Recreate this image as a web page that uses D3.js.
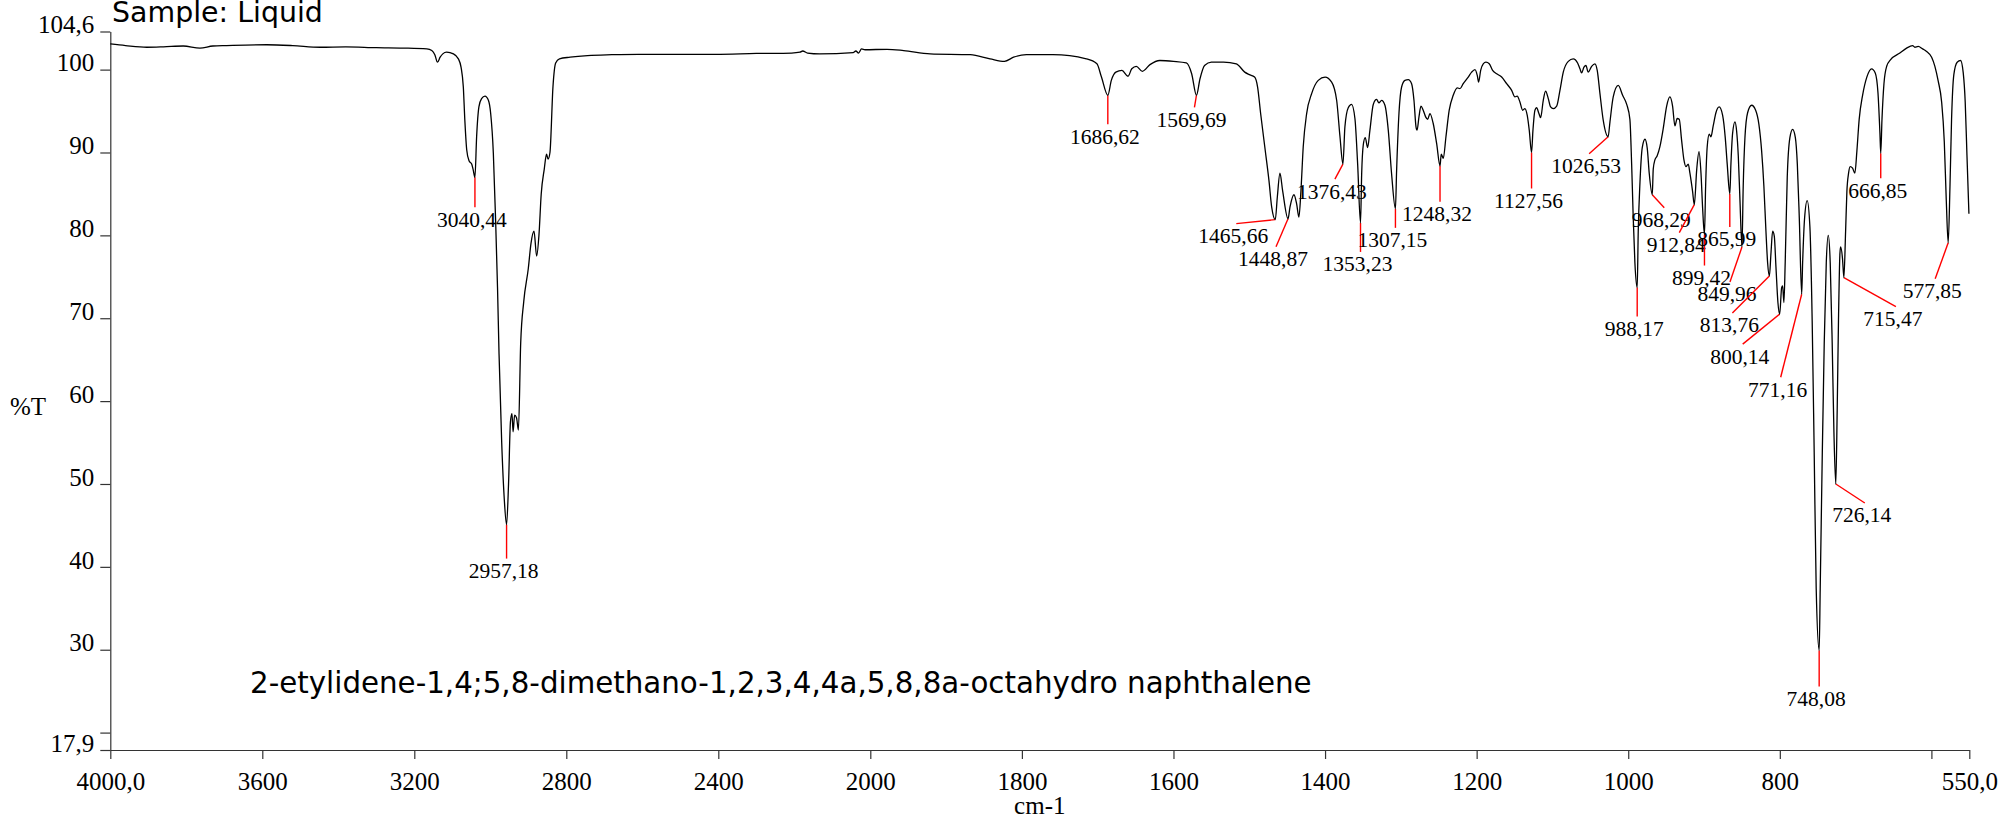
<!DOCTYPE html>
<html>
<head>
<meta charset="utf-8">
<script src="https://cdn.jsdelivr.net/npm/d3@7/dist/d3.min.js"></script>
<style>
body { margin: 0; background: #fff; }
svg { display: block; }
.serif { font-family: "Liberation Serif", "Times New Roman", serif; }
.comic { font-family: "DejaVu Sans", sans-serif; }
</style>
</head>
<body>
<svg id="svg-container" width="2003" height="822"></svg>
<script>
// IR spectrum: wavenumber (cm-1) and %T
var wavenumbers = [
	4000, 3960, 3904, 3860, 3808, 3764, 3730, 3694, 3588, 3520, 3448, 3380, 3300, 3230, 3167, 3154, 3146, 3139, 3132, 3125,
	3115, 3097, 3084, 3077, 3071, 3067, 3062, 3056, 3049, 3045, 3040.44, 3036, 3030, 3023, 3014, 3005, 2999, 2992, 2986, 2981,
	2977, 2970, 2963, 2957.18, 2952, 2947, 2943, 2940, 2936, 2931, 2926, 2920, 2912, 2900, 2893, 2885, 2878, 2872, 2866, 2858,
	2852, 2848, 2843, 2835, 2828, 2818, 2790, 2744, 2680, 2610, 2500, 2408, 2300, 2207, 2185, 2178, 2165, 2133, 2045, 2038,
	2031, 2023, 2014, 1978, 1956, 1921, 1868, 1842, 1823, 1811, 1794, 1759, 1715, 1701, 1695, 1686.62, 1682, 1676, 1668, 1660,
	1655, 1649, 1641, 1631, 1618, 1600, 1583, 1576, 1569.69, 1565, 1559, 1550, 1534, 1517, 1506, 1500, 1493, 1489, 1485, 1479,
	1474, 1470.4, 1465.66, 1463, 1459.5, 1456, 1448.87, 1446.3, 1441, 1437.5, 1434.5, 1431.8, 1428.8, 1424.3, 1417.7, 1409, 1400, 1391.3, 1384.7, 1380.3,
	1376.43, 1373.8, 1369.4, 1365, 1360.6, 1357, 1353.23, 1351.7, 1349.6, 1347, 1343.8, 1340.8, 1336.4, 1332, 1329, 1325.4, 1321, 1316.6, 1312.2, 1307.15,
	1305.6, 1302.5, 1299, 1294.6, 1290.2, 1285.8, 1282.7, 1280, 1278.6, 1276.1, 1273.5, 1270.5, 1267.3, 1264.6, 1261.6, 1257.3, 1252.8, 1248.32, 1246.7, 1244,
	1240.5, 1236.2, 1230.9, 1225.6, 1222, 1217.7, 1211.1, 1206.6, 1202.2, 1199.2, 1197.4, 1194.7, 1191.3, 1187.7, 1183.4, 1178.9, 1173.6, 1167, 1160.4, 1153.8,
	1149.5, 1146.5, 1142.9, 1139.3, 1136.3, 1133.3, 1130.6, 1127.56, 1125.7, 1123.1, 1120.9, 1117.8, 1115.6, 1112.1, 1109, 1105.5, 1102.4, 1098.9, 1094.4, 1090.1,
	1085.7, 1079.1, 1072.6, 1066.8, 1063.7, 1061.5, 1058.4, 1055.8, 1052.8, 1048.3, 1043.9, 1040.9, 1037.3, 1033, 1026.53, 1024.1, 1019.8, 1013.2, 1007.4, 1002,
	997.8, 995.5, 993.4, 991.2, 988.17, 986.8, 984.5, 981.5, 977.9, 974.9, 972.3, 968.29, 967, 964.8, 961.8, 958.2, 953.8, 949.3, 945, 941.5,
	938.4, 935.4, 932.7, 929.6, 926.5, 923.9, 920.8, 918.6, 915.1, 912.84, 909.6, 906.6, 904, 901.8, 899.42, 897.9, 895.8, 893.1, 890.9, 887.9,
	884.3, 880, 875.5, 872, 869.4, 865.99, 864.5, 862.3, 859.2, 857, 854.8, 852.6, 849.96, 848.3, 846, 842.5, 837.2, 831.9, 827.6, 824,
	821, 818.3, 816.1, 813.76, 811.7, 809.5, 807.3, 805.1, 802.5, 800.14, 797.6, 796.3, 794.6, 792.9, 790.2, 786.7, 783.1, 779.5, 776.9, 774.3,
	771.16, 769.9, 767.3, 763.9, 760.3, 757.3, 754.6, 752, 748.08, 746.7, 744, 741.4, 738.7, 736.1, 733.5, 730.9, 728.6, 726.14, 724.3, 722.6,
	720.7, 719.8, 717.3, 715.47, 713.2, 711.5, 709.3, 707.2, 704, 701, 698.3, 695.3, 690.8, 685.2, 678.9, 674.1, 670.5, 667.9, 666.85, 665.2,
	662.6, 659, 653.8, 641.6, 632.7, 624.8, 621.8, 617.4, 611.6, 606.4, 599.7, 595.4, 591, 586.5, 583, 580.4, 577.85, 575.5, 573.4, 570.4,
	566, 561.5, 558, 555.4, 553.1, 550.5
];
var transmittance = [
	103.1, 102.9, 102.7, 102.75, 102.85, 102.6, 102.85, 102.9, 103.0, 102.9, 102.7, 102.75, 102.65, 102.6, 102.5, 102.3, 101.8, 100.9, 101.5, 101.9,
	102.1, 101.9, 101.3, 100.3, 97.9, 93.9, 90.3, 89.0, 88.6, 87.9, 87.0, 91.9, 95.5, 96.5, 96.8, 96.3, 94.7, 89.9, 81.8, 73.7,
	65.7, 55, 48, 45.1, 50, 57.5, 58.5, 56.3, 58.3, 58.0, 56.5, 67, 72, 76, 79, 80.5, 77.5, 80, 85, 88,
	89.8, 89.2, 90, 98, 100.8, 101.3, 101.5, 101.7, 101.8, 101.85, 101.85, 101.85, 101.95, 102.0, 102.1, 102.25, 102.0, 101.9, 102.05, 102.25,
	102.0, 102.5, 102.4, 102.45, 102.3, 101.9, 101.8, 101.3, 101.0, 101.5, 101.8, 101.8, 101.3, 100.7, 99.1, 96.9, 98.7, 99.7, 99.9, 99.2,
	100.1, 100.4, 99.8, 100.6, 101.1, 101.0, 100.8, 99.5, 96.9, 98.9, 100.5, 100.9, 100.9, 100.7, 99.7, 99.4, 99.1, 97.9, 94.7, 90.3,
	86.6, 83.4, 81.9, 84.6, 87.5, 85.4, 82.0, 83.4, 84.9, 83.8, 82.2, 85.4, 90.7, 94.7, 97.1, 98.7, 99.1, 98.5, 96.3, 91.9,
	88.6, 93.1, 95.4, 95.8, 94.1, 88.6, 81.5, 87.4, 90.9, 91.8, 90.6, 92.7, 95.8, 96.4, 96.0, 96.3, 95.7, 92.7, 87.4, 83.2,
	87.8, 94.7, 97.9, 98.7, 98.8, 98.3, 96.3, 93.1, 92.7, 94.3, 95.6, 95.1, 94.3, 94.0, 94.7, 93.5, 91.1, 88.4, 89.8, 89.3,
	91.9, 95.1, 96.9, 97.8, 97.7, 98.3, 99.1, 99.7, 100.0, 99.3, 98.5, 99.9, 100.7, 100.9, 100.7, 99.9, 99.5, 99.1, 98.3, 97.5,
	96.7, 96.8, 96.1, 95.1, 95.3, 94.5, 92.7, 90.0, 92.7, 95.1, 95.4, 94.7, 94.2, 96.3, 97.4, 96.5, 95.5, 95.3, 95.6, 97.5,
	99.7, 101.0, 101.3, 100.8, 100.1, 99.6, 100.3, 100.5, 99.7, 100.4, 100.7, 99.9, 97.1, 93.9, 91.9, 93.7, 96.7, 98.1, 96.9, 95.8,
	94.0, 88.6, 82.1, 76.7, 73.7, 80.5, 86.4, 90.6, 91.6, 90.5, 87.5, 84.9, 88.0, 89.1, 89.6, 90.7, 92.9, 95.6, 96.7, 95.6,
	93.2, 94.1, 94.0, 91.5, 89.1, 88.3, 88.6, 87.5, 85.3, 83.7, 88.0, 90.1, 87.5, 83.2, 80.1, 85.9, 90.7, 92.2, 91.9, 93.2,
	94.8, 95.5, 94.5, 91.8, 88.6, 85.0, 88.6, 92.3, 93.7, 92.6, 89.6, 84.3, 78.6, 85.9, 91.8, 94.8, 95.7, 95.1, 93.4, 90.2,
	85.9, 80.5, 76.7, 75.1, 77.8, 80.5, 79.9, 76.2, 71.9, 70.5, 73.7, 73.9, 71.9, 76.7, 87.0, 91.8, 92.8, 91.8, 88.6, 82.1,
	72.9, 76.7, 82.1, 84.2, 81.0, 69.7, 53.5, 37.4, 29.9, 37.4, 53.5, 67.0, 76.7, 80.0, 76.7, 67.0, 56.2, 50.0, 58.9, 69.7,
	77.8, 78.6, 77.2, 74.9, 80.5, 85.3, 87.5, 88.3, 88.1, 87.5, 90.2, 94.0, 96.9, 99.1, 100.1, 99.6, 97.2, 92.3, 89.9, 94.0,
	98.3, 100.4, 101.2, 102.0, 102.6, 102.9, 102.7, 102.8, 102.5, 102.2, 101.5, 100.4, 98.6, 96.1, 91.3, 84.3, 79.1, 85.9, 94.0, 99.4,
	100.9, 101.1, 99.6, 96.1, 89.7, 82.6
];

// labelled peaks
var peakWn = [3040.44, 2957.18, 1686.62, 1569.69, 1465.66, 1448.87, 1376.43, 1353.23, 1307.15, 1248.32,
	1127.56, 1026.53, 988.17, 968.29, 912.84, 899.42, 865.99, 849.96, 813.76, 800.14,
	771.16, 748.08, 726.14, 715.47, 666.85, 577.85];
var peakT = [87.0, 45.1, 96.9, 96.9, 81.9, 82.0, 88.6, 81.5, 83.2, 88.4,
	90.0, 91.9, 73.7, 84.9, 83.7, 80.1, 85.0, 78.6, 75.1, 70.5,
	72.9, 29.9, 50.0, 74.9, 89.9, 79.1];
// leader line offsets (px) from the peak to the label
var leaderDx = [0, 0, 0, -2, -39, -12, -8, 0, 0, 0,
	0, -19, 0, 12, -15, 0, 0, -12, -37, -37,
	-21, 0, 29, 52, 0, -13];
var leaderDy = [30, 34, 29, 12, 4, 28, 15, 29, 19, 36,
	36, 17, 29, 13, 28, 31, 33, 35, 37, 30,
	83, 36, 19, 29, 25, 36];

var yTicks = [104.6, 100, 90, 80, 70, 60, 50, 40, 30, 20, 17.9];
var yTickLabels = ['104,6', '100', '90', '80', '70', '60', '50', '40', '30', '', '17,9'];
var xTicks = [4000, 3600, 3200, 2800, 2400, 2000, 1800, 1600, 1400, 1200, 1000, 800, 600, 550];
var xTickLabels = ['4000,0', '3600', '3200', '2800', '2400', '2000', '1800', '1600', '1400', '1200', '1000', '800', '', '550,0'];

var svg = d3.select('#svg-container');

// x axis is split: 4000-2000 compressed, 2000-550 at double scale
var x = d3.scaleLinear().domain([4000, 2000, 550]).range([110.3, 870.3, 1969.3]);
var y = d3.scaleLinear().domain([17.9, 104.6]).range([750, 31.5]);

// Axes
var gy = svg.append('g')
	.attr('transform', 'translate(' + x(4000) + ',0)')
	.call(d3.axisLeft(y).tickValues(yTicks).tickSize(10).tickSizeOuter(0)
		.tickFormat(function (d, i) { return yTickLabels[i]; }));
var gx = svg.append('g')
	.attr('transform', 'translate(0,' + y(17.9) + ')')
	.call(d3.axisBottom(x).tickValues(xTicks).tickSize(9).tickSizeOuter(0)
		.tickFormat(function (d, i) { return xTickLabels[i]; }));
svg.selectAll('.domain, .tick line').attr('stroke', '#333').attr('stroke-width', 1.2);
gy.selectAll('text').attr('class', 'serif').attr('font-size', 25).attr('fill', '#000')
	.attr('x', -16).attr('dy', '0.05em');
gx.selectAll('text').attr('class', 'serif').attr('font-size', 25).attr('fill', '#000')
	.attr('y', 40).attr('dy', 0);

svg.append('text').attr('class', 'serif').attr('font-size', 25)
	.attr('x', 10).attr('y', 415).text('%T');
svg.append('text').attr('class', 'serif').attr('font-size', 25)
	.attr('text-anchor', 'middle').attr('x', (x(4000) + x(550)) / 2).attr('y', 814).text('cm-1');

// Leader lines and peak labels
var peaks = peakWn.map(function (w, i) {
	return { wn: w, t: peakT[i], dx: leaderDx[i], dy: leaderDy[i] };
});
var peak = svg.append('g').attr('class', 'peaks').selectAll('g')
	.data(peaks)
	.enter().append('g')
	.attr('transform', function (d) { return 'translate(' + x(d.wn) + ',' + y(d.t) + ')'; });
peak.append('line')
	.attr('x1', 0).attr('y1', 0)
	.attr('x2', function (d) { return d.dx; })
	.attr('y2', function (d) { return d.dy; })
	.attr('stroke', '#f00')
	.attr('stroke-width', 1.4);
peak.append('text')
	.attr('class', 'serif')
	.attr('font-size', 21.5)
	.attr('text-anchor', 'middle')
	.attr('x', function (d) { return d.dx - 3; })
	.attr('y', function (d) { return d.dy + 19.5; })
	.text(function (d) { return d.wn.toFixed(2).replace('.', ','); });

// Spectrum
var line = d3.line()
	.x(function (d) { return x(d[0]); })
	.y(function (d) { return y(d[1]); })
	.curve(d3.curveMonotoneX);
svg.append('path')
	.datum(d3.zip(wavenumbers, transmittance))
	.attr('fill', 'none')
	.attr('stroke', '#000')
	.attr('stroke-width', 1.3)
	.attr('stroke-linejoin', 'round')
	.attr('d', line);

// Titles, fitted to the width they take in the original
function fitText(sel, targetWidth) {
	var w = sel.node().getComputedTextLength();
	sel.attr('font-size', +sel.attr('font-size') * targetWidth / w);
}
var sample = svg.append('text').attr('class', 'comic').attr('font-size', 28)
	.attr('x', 112).attr('y', 22).text('Sample: Liquid');
fitText(sample, 211);
var compound = svg.append('text').attr('class', 'comic').attr('font-size', 28)
	.attr('x', 250).attr('y', 693)
	.text('2-etylidene-1,4;5,8-dimethano-1,2,3,4,4a,5,8,8a-octahydro naphthalene');
fitText(compound, 1062);
</script>
</body>
</html>
